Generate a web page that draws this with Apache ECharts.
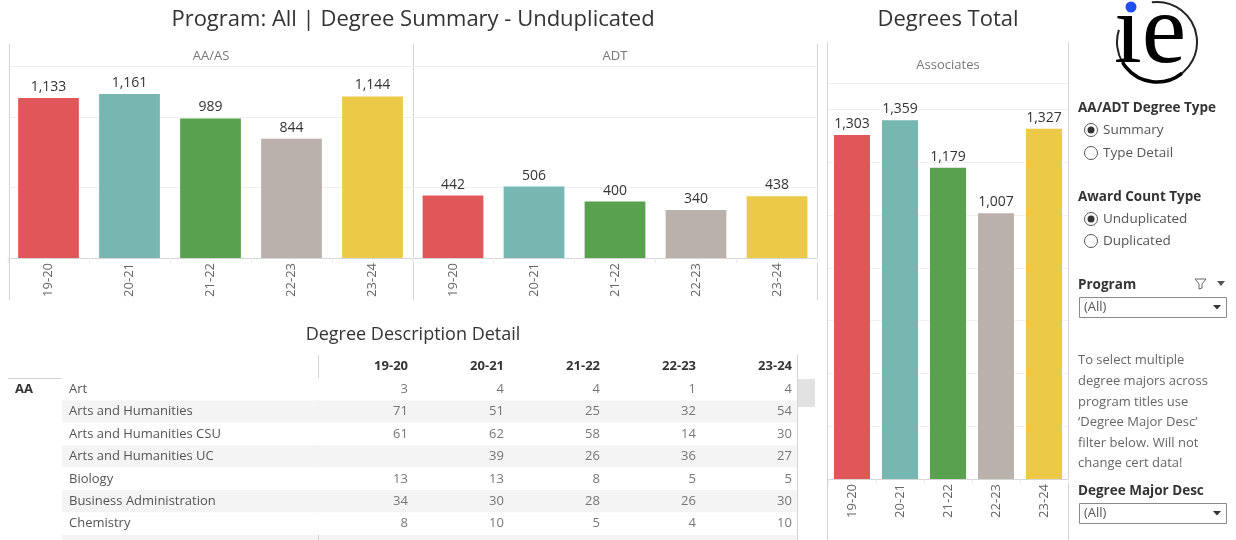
<!DOCTYPE html>
<html><head><meta charset="utf-8">
<script src="https://cdn.jsdelivr.net/npm/echarts@6/dist/echarts.min.js"></script>
<style>html,body{margin:0;padding:0;background:#fff}#c{width:1236px;height:540px}</style>
</head><body><div id="c"></div>
<script>
// ---------- data ----------
const years = ['19-20', '20-21', '21-22', '22-23', '23-24'];
const barColors = ['#E15759', '#76B7B2', '#59A14F', '#BAB0AC', '#EDC948'];
const aaasValues = [1133, 1161, 989, 844, 1144];
const adtValues = [442, 506, 400, 340, 438];
const totalValues = [1303, 1359, 1179, 1007, 1327];
const tableRows = ['Art', 'Arts and Humanities', 'Arts and Humanities CSU', 'Arts and Humanities UC', 'Biology', 'Business Administration', 'Chemistry'];
const rowArt = [3, 4, 4, 1, 4];
const rowArtsHum = [71, 51, 25, 32, 54];
const rowArtsHumCSU = [61, 62, 58, 14, 30];
const rowArtsHumUC = [null, 39, 26, 36, 27];
const rowBiology = [13, 13, 8, 5, 5];
const rowBusiness = [34, 30, 28, 26, 30];
const rowChemistry = [8, 10, 5, 4, 10];
const tableValues = [rowArt, rowArtsHum, rowArtsHumCSU, rowArtsHumUC, rowBiology, rowBusiness, rowChemistry];

// ---------- helpers ----------
const FONT = "'Open Sans', 'Noto Sans', sans-serif";
const fmt = v => Number(v).toLocaleString('en-US');
const cellData = [];
tableValues.forEach((row, r) => row.forEach((v, c) => { if (v !== null) cellData.push([c, r, v]); }));

function barSeries(vals, idx) {
  return {
    type: 'bar', xAxisIndex: idx, yAxisIndex: idx, barCategoryGap: '25%',
    data: vals.map((v, i) => ({ value: v, itemStyle: { color: barColors[i] } })),
    label: { show: true, position: 'top', distance: 4, color: '#333', fontSize: 14, fontFamily: FONT, formatter: p => fmt(p.value) },
    silent: true
  };
}
function catX(idx) {
  return {
    type: 'category', gridIndex: idx, data: years,
    axisLine: { lineStyle: { color: '#d6d6d6' } },
    axisTick: { show: true, length: 5, lineStyle: { color: '#ececec' } },
    axisLabel: { rotate: 90, color: '#666', fontSize: 13, fontFamily: FONT, margin: 5, interval: 0 }
  };
}
function valY(idx, max, interval) {
  return {
    type: 'value', gridIndex: idx, min: 0, max: max, interval: interval,
    axisLabel: { show: false }, axisLine: { show: false }, axisTick: { show: false },
    splitLine: { lineStyle: { color: '#f0f0f0' } }
  };
}
const L = (x1, y1, x2, y2, c) => ({ type: 'line', shape: { x1, y1, x2, y2 }, style: { stroke: c || '#d4d4d4', lineWidth: 1 }, silent: true });
const T = (x, y, text, opt) => ({ type: 'text', x, y, silent: true, style: Object.assign({ text, fill: '#555', fontSize: 13, fontFamily: FONT, textVerticalAlign: 'middle', verticalAlign: 'middle' }, opt || {}) });
function radio(y, label, on) {
  const g = [{ type: 'circle', shape: { cx: 1091, cy: y, r: 6.5 }, style: { fill: '#fff', stroke: '#555', lineWidth: 1 }, silent: true }];
  if (on) g.push({ type: 'circle', shape: { cx: 1091, cy: y, r: 3.5 }, style: { fill: '#333' }, silent: true });
  g.push(T(1103, y, label, { fill: '#555', fontSize: 13.5 }));
  return g;
}
function dropdown(y) {
  return [
    { type: 'rect', shape: { x: 1079.5, y: y + 0.5, width: 147, height: 20 }, style: { fill: '#fff', stroke: '#8a8a8a', lineWidth: 1 }, silent: true },
    T(1084, y + 10.5, '(All)', { fill: '#555', fontSize: 13 }),
    { type: 'polygon', shape: { points: [[1213, y + 8], [1221, y + 8], [1217, y + 12.5]] }, style: { fill: '#333' }, silent: true }
  ];
}

const graphics = [
  // titles
  T(413, 20, 'Program: All | Degree Summary - Unduplicated', { fill: '#333', fontSize: 22, textAlign: 'center', align: 'center' }),
  T(948, 20, 'Degrees Total', { fill: '#333', fontSize: 22, textAlign: 'center', align: 'center' }),
  T(413, 335, 'Degree Description Detail', { fill: '#333', fontSize: 18, textAlign: 'center', align: 'center' }),
  // top-left panels
  T(211, 56, 'AA/AS', { fill: '#777', fontSize: 13, textAlign: 'center', align: 'center' }),
  T(615, 56, 'ADT', { fill: '#777', fontSize: 13, textAlign: 'center', align: 'center' }),
  L(9.5, 44, 9.5, 300), L(413.5, 44, 413.5, 300), L(817.5, 44, 817.5, 300),
  L(10, 66.5, 818, 66.5),
  // right chart panel
  T(948, 65, 'Associates', { fill: '#777', fontSize: 13, textAlign: 'center', align: 'center' }),
  L(827.5, 42, 827.5, 540), L(1068.5, 42, 1068.5, 540),
  L(828, 83.5, 1068, 83.5),
  // table decorations
  { type: 'rect', shape: { x: 62, y: 534.8, width: 735, height: 6 }, style: { fill: '#f4f4f4' }, silent: true },
  L(8, 378.5, 797, 378.5), L(318.5, 355, 318.5, 540), L(797.5, 355, 797.5, 540),
  { type: 'rect', shape: { x: 798, y: 379, width: 17, height: 28 }, style: { fill: '#e2e2e2' }, silent: true },
  T(15, 389, 'AA', { fill: '#333', fontSize: 13, fontWeight: 'bold' }),
  // logo
  { type: 'arc', shape: { cx: 1157, cy: 42, r: 40, startAngle: -1.7, endAngle: 3.45, clockwise: true }, style: { stroke: '#222', lineWidth: 2, fill: null }, silent: true },
  { type: 'arc', shape: { cx: 1157, cy: 42, r: 40, startAngle: 0.9, endAngle: 2.6, clockwise: true }, style: { stroke: '#000', lineWidth: 3.5, fill: null }, silent: true },
  { type: 'text', x: 1150, y: 36, silent: true, style: { text: '\u0131e', fill: '#000', fontSize: 100, fontFamily: "'Liberation Serif', 'DejaVu Serif', serif", textAlign: 'center', align: 'center', textVerticalAlign: 'middle', verticalAlign: 'middle' } },
  { type: 'circle', shape: { cx: 1131, cy: 7, r: 5.5 }, style: { fill: '#1f4ff5' }, silent: true },
  // filters
  T(1078, 108, 'AA/ADT Degree Type', { fill: '#333', fontSize: 13.5, fontWeight: 'bold' }),
  ...radio(130, 'Summary', true),
  ...radio(153, 'Type Detail', false),
  T(1078, 197, 'Award Count Type', { fill: '#333', fontSize: 13.5, fontWeight: 'bold' }),
  ...radio(219, 'Unduplicated', true),
  ...radio(241, 'Duplicated', false),
  T(1078, 285, 'Program', { fill: '#333', fontSize: 13.5, fontWeight: 'bold' }),
  { type: 'polygon', shape: { points: [[1195, 279], [1206, 279], [1202, 284], [1202, 288], [1199, 289], [1199, 284]] }, style: { fill: 'none', stroke: '#666', lineWidth: 1 }, silent: true },
  { type: 'polygon', shape: { points: [[1217, 281], [1225, 281], [1221, 286]] }, style: { fill: '#555' }, silent: true },
  ...dropdown(297),
  T(1078, 360, 'To select multiple', { fill: '#666' }),
  T(1078, 381, 'degree majors across', { fill: '#666' }),
  T(1078, 402, 'program titles use', { fill: '#666' }),
  T(1078, 422, '\u2018Degree Major Desc\u2019', { fill: '#666' }),
  T(1078, 443, 'filter below. Will not', { fill: '#666' }),
  T(1078, 463, 'change cert data!', { fill: '#666' }),
  T(1078, 491, 'Degree Major Desc', { fill: '#333', fontSize: 13.5, fontWeight: 'bold' }),
  ...dropdown(503)
];

const chart = echarts.init(document.getElementById('c'), null, { renderer: 'canvas' });
chart.setOption({
  animation: false,
  backgroundColor: '#fff',
  textStyle: { fontFamily: FONT },
  grid: [
    { left: 8, top: 66, width: 405, height: 192 },
    { left: 412.5, top: 66, width: 405, height: 192 },
    { left: 828, top: 83, width: 240, height: 396 },
    { left: 62, top: 378, width: 735, height: 156.8 },
    { left: 408, top: 378, width: 384, height: 156.8 }
  ],
  xAxis: [
    catX(0), catX(1), catX(2),
    { type: 'value', gridIndex: 3, show: false, min: 0, max: 1 },
    { type: 'category', gridIndex: 4, data: years, position: 'top', boundaryGap: false,
      axisLine: { show: false }, axisTick: { show: false },
      axisLabel: { interval: 0, align: 'right', margin: 5, color: '#333', fontWeight: 'bold', fontSize: 13, fontFamily: FONT } }
  ],
  yAxis: [
    valY(0, 1360, 500), valY(1, 1360, 500), valY(2, 1500, 200),
    { type: 'category', gridIndex: 3, data: tableRows, inverse: true,
      axisLine: { show: false }, axisTick: { show: false }, axisLabel: { show: false },
      splitLine: { show: false },
      splitArea: { show: true, areaStyle: { color: ['#ffffff', '#f4f4f4'] } } },
    { type: 'category', gridIndex: 4, data: tableRows, inverse: true,
      axisLine: { show: false }, axisTick: { show: false },
      axisLabel: { interval: 0, align: 'left', margin: 339, color: '#555', fontSize: 13, fontFamily: FONT } }
  ],
  series: [
    barSeries(aaasValues, 0),
    barSeries(adtValues, 1),
    barSeries(totalValues, 2),
    { type: 'scatter', xAxisIndex: 4, yAxisIndex: 4, symbolSize: 0.1, itemStyle: { color: 'rgba(0,0,0,0)' },
      data: cellData, silent: true,
      label: { show: true, position: 'left', distance: 0, color: '#555', fontSize: 13, fontFamily: FONT, formatter: p => fmt(p.value[2]) } }
  ],
  graphic: graphics
});
</script></body></html>
